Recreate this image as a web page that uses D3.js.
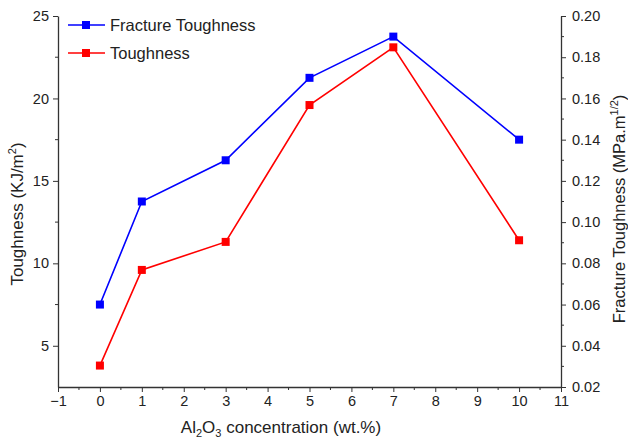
<!DOCTYPE html>
<html>
<head>
<meta charset="utf-8">
<script src="https://cdn.jsdelivr.net/npm/d3@7"></script>
<style>
  body { margin: 0; background: #fff; }
  text { font-family: "Liberation Sans", Arial, sans-serif; fill: #222; }
</style>
</head>
<body>
<svg id="chart" width="628" height="440"></svg>
<script>
// data
const concentration = [0, 1, 3, 5, 7, 10];
const toughness = [3.8, 9.6, 11.3, 19.6, 23.1, 11.4];          // KJ/m^2, left axis
const fractureToughness = [0.06, 0.11, 0.13, 0.17, 0.19, 0.14]; // MPa.m^1/2, right axis

const xTicks = d3.range(-1, 12, 1);
const leftTicks = [5, 10, 15, 20, 25];
const rightTicks = d3.range(0.02, 0.201, 0.02);

const margin = { top: 16, right: 67, bottom: 53, left: 58 };
const width = 628, height = 440;
const svg = d3.select("#chart");

const x = d3.scaleLinear().domain([-1, 11]).range([margin.left, width - margin.right]);
const yL = d3.scaleLinear().domain([2.5, 25]).range([height - margin.bottom, margin.top]);
const yR = d3.scaleLinear().domain([0.02, 0.2]).range([height - margin.bottom, margin.top]);

const axisColor = "#333";

// minor ticks
const gMinor = svg.append("g").attr("stroke", axisColor).attr("stroke-width", 1);
d3.range(-0.5, 11, 1).forEach(v => {
  gMinor.append("line").attr("x1", x(v)).attr("x2", x(v))
    .attr("y1", yL.range()[0]).attr("y2", yL.range()[0] + 3);
});
d3.range(7.5, 25, 5).forEach(v => {
  gMinor.append("line").attr("x1", margin.left).attr("x2", margin.left - 3)
    .attr("y1", yL(v)).attr("y2", yL(v));
});
d3.range(0.03, 0.2, 0.02).forEach(v => {
  gMinor.append("line").attr("x1", x(11)).attr("x2", x(11) + 3)
    .attr("y1", yR(v)).attr("y2", yR(v));
});

function style(g) {
  g.selectAll("path").attr("stroke", axisColor).attr("stroke-width", 1.3);
  g.selectAll("line").attr("stroke", axisColor);
  g.selectAll("text").attr("font-size", 14.5).attr("fill", "#222")
    .style("font-family", '"Liberation Sans", Arial, sans-serif');
}

svg.append("g")
  .attr("transform", `translate(0,${height - margin.bottom})`)
  .call(d3.axisBottom(x).tickValues(xTicks).tickFormat(d3.format("d")).tickSize(5).tickSizeOuter(0).tickPadding(4))
  .call(style);

svg.append("g")
  .attr("transform", `translate(${margin.left},0)`)
  .call(d3.axisLeft(yL).tickValues(leftTicks).tickSize(5).tickSizeOuter(0).tickPadding(4))
  .call(style);

svg.append("g")
  .attr("transform", `translate(${width - margin.right},0)`)
  .call(d3.axisRight(yR).tickValues(rightTicks).tickFormat(d3.format(".2f")).tickSize(5).tickSizeOuter(0).tickPadding(6))
  .call(style);

// series
const series = [
  { name: "Fracture Toughness", color: "#0000ff", values: fractureToughness, y: yR },
  { name: "Toughness", color: "#ff0000", values: toughness, y: yL }
];

series.forEach(s => {
  const pts = concentration.map((c, i) => [c, s.values[i]]);
  svg.append("path")
    .datum(pts)
    .attr("fill", "none")
    .attr("stroke", s.color)
    .attr("stroke-width", 1.6)
    .attr("d", d3.line().x(d => x(d[0])).y(d => s.y(d[1])));
  svg.append("g").selectAll("rect")
    .data(pts)
    .join("rect")
    .attr("x", d => x(d[0]) - 4)
    .attr("y", d => s.y(d[1]) - 4)
    .attr("width", 8)
    .attr("height", 8)
    .attr("fill", s.color);
});

// legend
const legend = svg.append("g");
series.forEach((s, i) => {
  const ly = 25 + i * 28;
  legend.append("line").attr("x1", 68).attr("x2", 105).attr("y1", ly).attr("y2", ly)
    .attr("stroke", s.color).attr("stroke-width", 1.6);
  legend.append("rect").attr("x", 82).attr("y", ly - 4).attr("width", 8).attr("height", 8)
    .attr("fill", s.color);
  legend.append("text").attr("x", 110).attr("y", ly + 6)
    .attr("font-size", 16.5).text(s.name);
});

// axis titles
const xt = svg.append("text")
  .attr("x", 281)
  .attr("y", 433)
  .attr("text-anchor", "middle")
  .attr("font-size", 17);
xt.append("tspan").text("Al");
xt.append("tspan").attr("font-size", 11).attr("dy", 4).text("2");
xt.append("tspan").attr("dy", -4).text("O");
xt.append("tspan").attr("font-size", 11).attr("dy", 4).text("3");
xt.append("tspan").attr("dy", -4).text(" concentration (wt.%)");

const yt = svg.append("text")
  .attr("transform", `translate(23,214) rotate(-90)`)
  .attr("text-anchor", "middle")
  .attr("font-size", 17);
yt.append("tspan").text("Toughness (KJ/m");
yt.append("tspan").attr("font-size", 11).attr("dy", -7).text("2");
yt.append("tspan").attr("dy", 7).text(")");

const yrt = svg.append("text")
  .attr("transform", `translate(625,209) rotate(-90)`)
  .attr("text-anchor", "middle")
  .attr("font-size", 16.5);
yrt.append("tspan").text("Fracture Toughness (MPa.m");
yrt.append("tspan").attr("font-size", 11).attr("dy", -7).text("1/2");
yrt.append("tspan").attr("dy", 7).text(")");
</script>
</body>
</html>
